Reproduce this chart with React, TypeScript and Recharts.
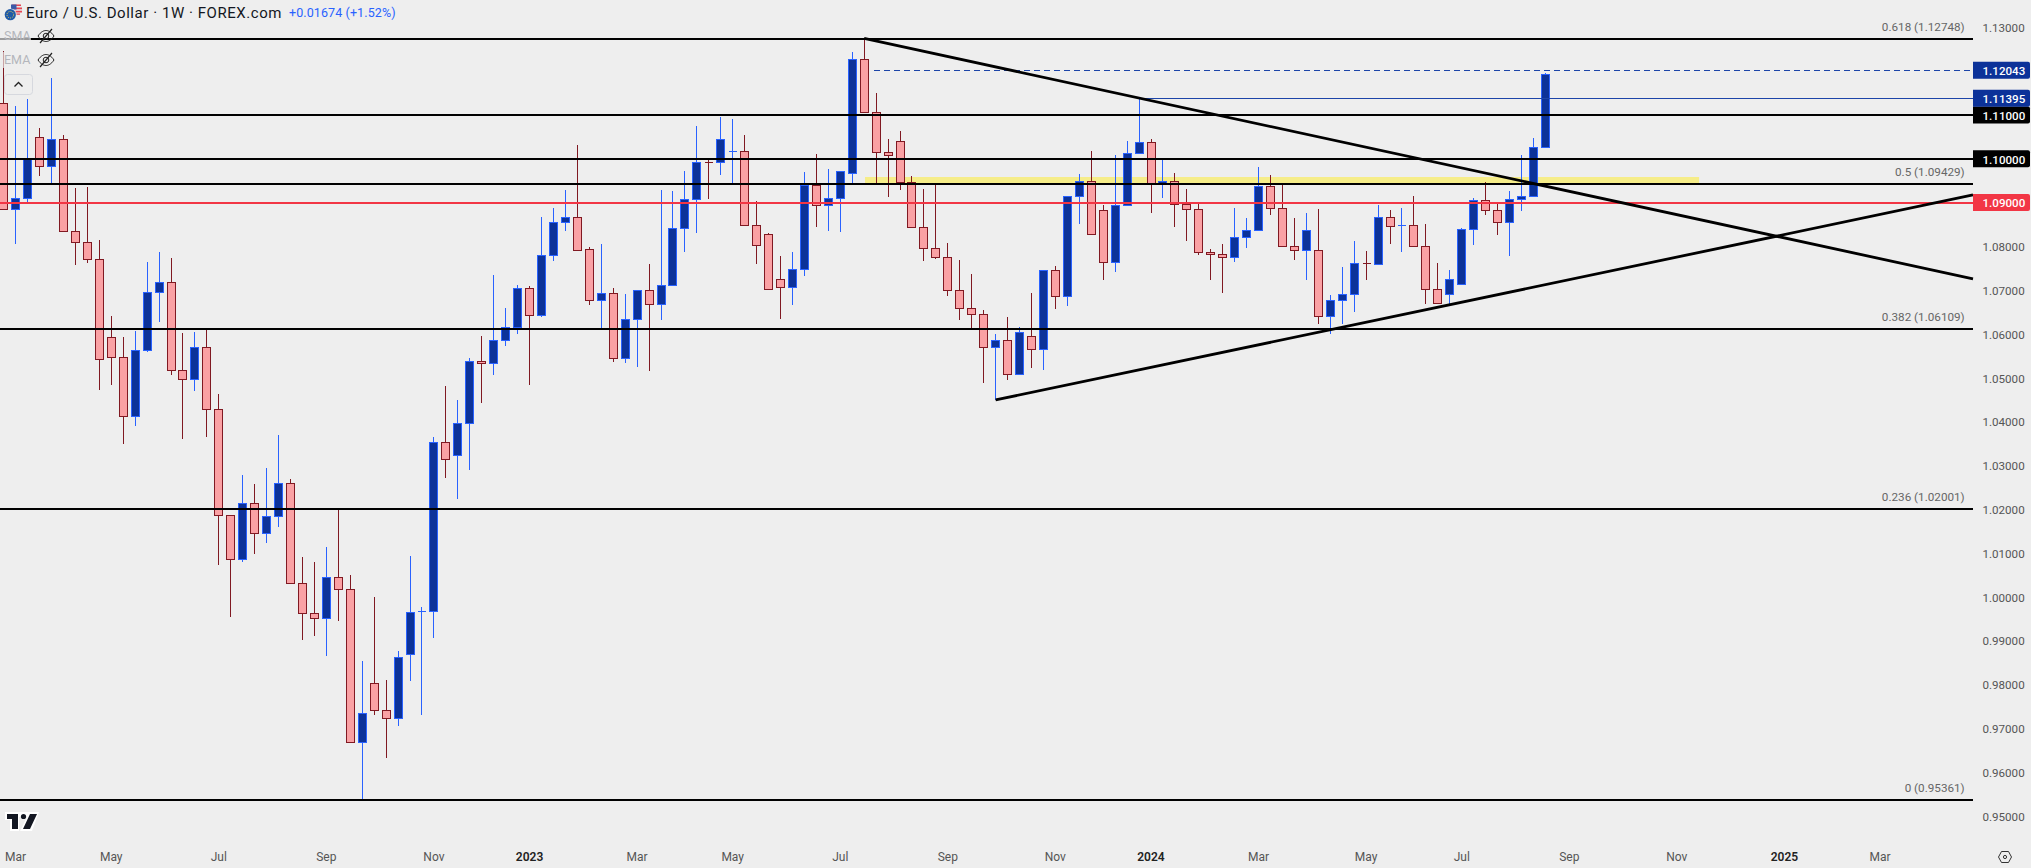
import React from "react";
import { ComposedChart, Bar, XAxis, YAxis, ReferenceLine, ReferenceArea } from "recharts";

const opens = [
  1.11268, 1.08848, 1.09099, 1.10491, 1.09829, 1.10446, 1.08345, 1.08094, 1.07706, 1.05925,
  1.05468, 1.04122, 1.05628, 1.06953, 1.07181, 1.05172, 1.04966, 1.05697, 1.04281, 1.01861,
  1.00857, 1.02135, 1.0145, 1.01838, 1.02592, 1.00309, 0.99624, 0.9951, 1.00446, 1.00172,
  0.96679, 0.98025, 0.97409, 0.97226, 0.98688, 0.99669, 0.99669, 1.03528, 1.03231, 1.03962,
  1.05377, 1.05331, 1.05857, 1.06153, 1.07044, 1.06427, 1.07797, 1.08551, 1.08665, 1.07934,
  1.0677, 1.0693, 1.05445, 1.06336, 1.06998, 1.06678, 1.07112, 1.08414, 1.09076, 1.09921,
  1.09921, 1.10172, 1.10172, 1.08482, 1.08277, 1.07249, 1.07067, 1.07478, 1.09395, 1.08939,
  1.09099, 1.09669, 1.12272, 1.11062, 1.10149, 1.104, 1.09464, 1.08437, 1.07957, 1.07752,
  1.06998, 1.06587, 1.0645, 1.05697, 1.05857, 1.0508, 1.05948, 1.05651, 1.07455, 1.06861,
  1.09144, 1.09487, 1.08825, 1.07637, 1.08939, 1.10126, 1.10377, 1.09418, 1.09487, 1.08962,
  1.08848, 1.07866, 1.0782, 1.07752, 1.08208, 1.08368, 1.09373, 1.0887, 1.08003, 1.07911,
  1.07911, 1.06404, 1.0677, 1.06907, 1.07615, 1.07592, 1.08665, 1.08482, 1.08482, 1.08003,
  1.07021, 1.06907, 1.07135, 1.08391, 1.09053, 1.08825, 1.08551, 1.09076, 1.09144, 1.10263,
];
const closes = [
  1.08848, 1.09099, 1.10003, 1.09829, 1.10446, 1.08345, 1.08094, 1.07706, 1.05423, 1.05468,
  1.04122, 1.05628, 1.06953, 1.07181, 1.05172, 1.04966, 1.05697, 1.04281, 1.01852, 1.00857,
  1.02135, 1.0145, 1.01838, 1.02592, 1.00309, 0.99624, 0.9951, 1.00446, 1.00172, 0.96679,
  0.97341, 0.97409, 0.97226, 0.98619, 0.99647, 0.9968, 1.03528, 1.0314, 1.03962, 1.05377,
  1.05331, 1.05857, 1.06153, 1.07044, 1.06427, 1.07797, 1.08551, 1.08665, 1.07911, 1.0677,
  1.0693, 1.05445, 1.06336, 1.06998, 1.06678, 1.07112, 1.08414, 1.09076, 1.09921, 1.0991,
  1.10446, 1.1018, 1.08482, 1.08025, 1.07021, 1.07067, 1.07478, 1.09395, 1.08939, 1.09099,
  1.09715, 1.12272, 1.11062, 1.10149, 1.1008, 1.09464, 1.08437, 1.07957, 1.07752, 1.06998,
  1.06587, 1.0645, 1.05697, 1.05857, 1.0508, 1.06039, 1.05651, 1.07455, 1.06861, 1.09144,
  1.09487, 1.08277, 1.07637, 1.08939, 1.10126, 1.10377, 1.09418, 1.09487, 1.08962, 1.08848,
  1.07866, 1.0782, 1.07752, 1.08208, 1.08368, 1.09373, 1.0887, 1.08003, 1.07911, 1.08368,
  1.06404, 1.0677, 1.06907, 1.07615, 1.07605, 1.08665, 1.08459, 1.0849, 1.08003, 1.07021,
  1.06701, 1.07249, 1.08391, 1.09053, 1.08825, 1.08551, 1.09076, 1.09144, 1.10263, 1.11937,
];
const highs = [
  1.12462, 1.11206, 1.11366, 1.10704, 1.11845, 1.10544, 1.09327, 1.09357, 1.08147, 1.06411,
  1.05932, 1.06069, 1.07644, 1.07873, 1.07736, 1.06023, 1.06046, 1.06137, 1.04631, 1.01861,
  1.02781, 1.02576, 1.02941, 1.03695, 1.0269, 1.00909, 1.00795, 1.01138, 1.02005, 1.00498,
  0.98535, 0.99996, 0.98101, 0.98763, 1.00932, 0.99767, 1.03649, 1.04813, 1.04494, 1.05445,
  1.05955, 1.07347, 1.06594, 1.07112, 1.0709, 1.08672, 1.08877, 1.09288, 1.10315, 1.0798,
  1.08055, 1.07051, 1.06914, 1.06998, 1.07599, 1.09288, 1.09265, 1.09722, 1.10749, 1.09989,
  1.10955, 1.10909, 1.10544, 1.09037, 1.08306, 1.07781, 1.07873, 1.09699, 1.1011, 1.09768,
  1.09715, 1.12439, 1.12748, 1.11496, 1.10453, 1.10635, 1.09608, 1.09311, 1.09441, 1.08078,
  1.0769, 1.0737, 1.06548, 1.06, 1.06389, 1.06153, 1.0693, 1.07455, 1.07546, 1.09144,
  1.09647, 1.10179, 1.08939, 1.10087, 1.10407, 1.11395, 1.10453, 1.09996, 1.09676, 1.09311,
  1.08985, 1.07941, 1.08055, 1.08877, 1.08649, 1.09813, 1.09631, 1.09441, 1.08649, 1.08763,
  1.08854, 1.06891, 1.0753, 1.08124, 1.07895, 1.08946, 1.08831, 1.08877, 1.09151, 1.08512,
  1.07622, 1.07462, 1.08421, 1.09105, 1.09471, 1.09014, 1.09258, 1.10087, 1.10475, 1.11953,
];
const lows = [
  1.08848, 1.08062, 1.08998, 1.09615, 1.09448, 1.08345, 1.07583, 1.07628, 1.04729, 1.04843,
  1.03496, 1.03907, 1.05596, 1.06281, 1.05071, 1.0361, 1.04706, 1.03656, 1.00727, 0.99546,
  1.00802, 1.00985, 1.01236, 1.01601, 1.00309, 0.99021, 0.99112, 0.98655, 0.99455, 0.96679,
  0.95377, 0.97295, 0.96327, 0.97057, 0.98085, 0.97302, 0.99067, 1.0272, 1.0224, 1.02902,
  1.04432, 1.05071, 1.05733, 1.06007, 1.04843, 1.06395, 1.07674, 1.08359, 1.07911, 1.06669,
  1.06144, 1.05368, 1.05345, 1.05254, 1.05163, 1.06327, 1.07112, 1.07879, 1.08313, 1.0909,
  1.09638, 1.09432, 1.08482, 1.07605, 1.07021, 1.0635, 1.06669, 1.07331, 1.0845, 1.08359,
  1.08336, 1.09441, 1.11062, 1.09441, 1.09135, 1.09295, 1.08437, 1.07674, 1.0772, 1.06875,
  1.06327, 1.06131, 1.04889, 1.04494, 1.04957, 1.0508, 1.05231, 1.05186, 1.06578, 1.06647,
  1.08519, 1.08277, 1.0724, 1.07423, 1.08939, 1.10103, 1.0877, 1.09112, 1.0845, 1.08131,
  1.07811, 1.0724, 1.06943, 1.07637, 1.07971, 1.08368, 1.08724, 1.08003, 1.07697, 1.0724,
  1.06236, 1.06007, 1.06236, 1.0651, 1.0724, 1.07592, 1.08062, 1.07879, 1.08003, 1.06692,
  1.06701, 1.06678, 1.07112, 1.08039, 1.08724, 1.08268, 1.07788, 1.08816, 1.09121, 1.1024,
];

const monthTickAt = [1, 9, 18, 27, 36, 44, 53, 61, 70, 79, 88, 96, 105, 114, 122, 131, 140, 149, 157];
const monthTickLabels = ["Mar", "May", "Jul", "Sep", "Nov", "2023", "Mar", "May", "Jul", "Sep", "Nov", "2024", "Mar", "May", "Jul", "Sep", "Nov", "2025", "Mar"];

const priceTicks = [0.95, 0.96, 0.97, 0.98, 0.99, 1.0, 1.01, 1.02, 1.03, 1.04, 1.05, 1.06, 1.07, 1.08, 1.09, 1.1, 1.11, 1.1138, 1.1202, 1.13];
const tagAt = [1.09, 1.1, 1.11, 1.1138, 1.1202];
const tagText = ["1.09000", "1.10000", "1.11000", "1.11395", "1.12043"];
const tagFill = ["#f23645", "#000000", "#000000", "#0c3299", "#0c3299"];

const fibAt = [1.1274, 1.09429, 1.06109, 1.02001, 0.95361];
const fibText = ["0.618 (1.12748)", "0.5 (1.09429)", "0.382 (1.06109)", "0.236 (1.02001)", "0 (0.95361)"];
const plainLevels = [1.11, 1.1];

const rows = opens.map((o, i) => ({ idx: i, open: o, close: closes[i], high: highs[i], low: lows[i], range: [lows[i], highs[i]] }));

const BG = "#eeeeee";
const FONT = "Roboto, sans-serif";

function Candle(props: any) {
  const { x, y, width, height, payload } = props;
  const up = payload.close >= payload.open;
  const wick = up ? "#2962ff" : "#801922";
  const fill = up ? "#0c3299" : "#faa1a4";
  const perUnit = height / (payload.high - payload.low);
  const yOf = (v: number) => y + (payload.high - v) * perUnit;
  const cx = Math.floor(x + width / 2) + 0.5;
  const snap = (v: number) => Math.round(v - 0.3) + 0.5;
  const top = snap(yOf(Math.max(payload.open, payload.close)));
  const bot = snap(yOf(Math.min(payload.open, payload.close)));
  return (
    <g>
      <rect x={cx - 0.5} y={y} width={1} height={height} fill={wick} shapeRendering="crispEdges" />
      {bot - top < 1 ? (
        <line x1={cx - 4} x2={cx + 4} y1={top} y2={top} stroke={wick} strokeWidth={1} shapeRendering="crispEdges" />
      ) : (
        <rect x={cx - 4} y={top} width={8} height={bot - top} fill={fill} stroke={wick} strokeWidth={1} />
      )}
    </g>
  );
}

function PriceTick(props: any) {
  const { y, payload } = props;
  const t = tagAt.indexOf(payload.value);
  if (t >= 0) {
    const l = 1973;
    return (
      <g>
        <path d={`M${l} ${y - 8.5}H${l + 55}a2 2 0 0 1 2 2v13a2 2 0 0 1 -2 2H${l}Z`} fill={tagFill[t]} />
        <text x={l + 9.5} y={y + 0.7} dominantBaseline="central" fontFamily={FONT} fontSize={11.6} fontWeight={500} fill="#ffffff">{tagText[t]}</text>
      </g>
    );
  }
  return (
    <text x={1982.5} y={y + 0.7} dominantBaseline="central" fontFamily={FONT} fontSize={11.6} fill="#555555">{payload.value.toFixed(5)}</text>
  );
}

function MonthTick(props: any) {
  const { x, payload } = props;
  const label = monthTickLabels[monthTickAt.indexOf(payload.value)];
  const year = /^\d/.test(label);
  return (
    <text x={x} y={857} textAnchor="middle" dominantBaseline="central" fontFamily={FONT} fontSize={12} fontWeight={year ? 600 : 400} fill={year ? "#222222" : "#555555"}>{label}</text>
  );
}

function fibLabel(text: string) {
  return (p: any) => (
    <text x={1964.7} y={p.viewBox.y - 12} textAnchor="end" dominantBaseline="central" fontFamily={FONT} fontSize={11.7} fill="#666666">{text}</text>
  );
}

function Eye({ top }: { top: number }) {
  return (
    <svg width={18} height={16} viewBox="0 0 18 16" style={{ position: "absolute", left: 37, top }}>
      <path d="M1 8C4 3.5 7 2.5 9 2.5S14 3.5 17 8C14 12.5 11 13.5 9 13.5S4 12.5 1 8Z" fill="none" stroke="#222" strokeWidth={1} />
      <circle cx={9} cy={8} r={2.8} fill="none" stroke="#222" strokeWidth={1} />
      <path d="M3 15L15 1" stroke="#222" strokeWidth={1.2} />
    </svg>
  );
}

function Overlays() {
  const base: React.CSSProperties = { position: "absolute", fontFamily: FONT, whiteSpace: "nowrap", lineHeight: "16px" };
  return (
    <>
      <svg width={24} height={24} style={{ position: "absolute", left: 2, top: 2 }}>
        <circle cx={14.5} cy={7.5} r={6} fill="#e9e9e9" />
        <path d="M10 2.5h9v1.6h-9zM9 5.6h11v1.6H9zM9 8.8h11v1.6H9zM10 11.5h8v1.2h-8z" fill="#e64553" />
        <path d="M9 2.5h5.5v5H9z" fill="#3a5aa8" />
        <circle cx={8.3} cy={12.7} r={6.3} fill={BG} />
        <circle cx={8.3} cy={12.7} r={5.6} fill="#1f5aa8" />
        <circle cx={8.3} cy={12.7} r={3.3} fill="none" stroke="#f3d34a" strokeWidth={1} strokeDasharray="1 1.2" />
      </svg>
      <div style={{ ...base, left: 26, top: 5, fontSize: 15, letterSpacing: 0.55, color: "#131722" }}>Euro / U.S. Dollar · 1W · FOREX.com</div>
      <div style={{ ...base, left: 289, top: 5, fontSize: 12.5, letterSpacing: 0.1, color: "#2962ff" }}>+0.01674 (+1.52%)</div>
      <div style={{ ...base, left: 0, top: 28, width: 31, height: 16, paddingLeft: 4, boxSizing: "border-box", fontSize: 12.5, color: "#b4b6bc", background: "rgba(238,238,238,0.65)" }}>SMA</div>
      <div style={{ ...base, left: 0, top: 52, width: 31, height: 16, paddingLeft: 4, boxSizing: "border-box", fontSize: 12.5, color: "#b4b6bc", background: "rgba(238,238,238,0.65)" }}>EMA</div>
      <Eye top={28} />
      <Eye top={52} />
      <svg width={29} height={21} style={{ position: "absolute", left: 4, top: 74 }}>
        <rect x={0.5} y={0.5} width={28} height={20} rx={3} fill={BG} stroke="#d6d8de" />
        <path d="M10.5 12.5L14.5 8.5L18.5 12.5" fill="none" stroke="#222" strokeWidth={1.3} />
      </svg>
      <svg width={36} height={22} style={{ position: "absolute", left: 4, top: 811 }}>
        <path d="M1 1H35L28 20H16L23 6H15V20H6V9H1Z" fill="#ffffff" />
        <path d="M3 3H14V18H8V8H3Z" fill="#131722" />
        <circle cx={19.5} cy={5.5} r={2.6} fill="#131722" />
        <path d="M26 3H33L26 18H19Z" fill="#131722" />
      </svg>
      <svg width={16} height={16} style={{ position: "absolute", left: 1997, top: 849 }}>
        <path d="M4.5 2.5H11.5L14.5 8L11.5 13.5H4.5L1.5 8Z" fill="none" stroke="#333" strokeWidth={1} />
        <circle cx={8} cy={8} r={1.6} fill="none" stroke="#333" strokeWidth={1} />
      </svg>
    </>
  );
}

export default function App() {
  return (
    <div style={{ position: "fixed", left: 0, top: 0, width: 2031, height: 868, background: BG, overflow: "hidden" }}>
      <ComposedChart width={2031} height={868} data={rows} margin={{ top: 0, right: 0, bottom: 0, left: 0 }}>
        <XAxis dataKey="idx" type="number" domain={[-0.307, 164.78]} ticks={monthTickAt} interval={0} height={38} axisLine={false} tickLine={false} tick={MonthTick} allowDataOverflow />
        <YAxis orientation="right" type="number" domain={[0.946759, 1.136256]} ticks={priceTicks} interval={0} width={58} axisLine={false} tickLine={false} tick={PriceTick} allowDataOverflow />
        {fibAt.map((v, i) => (
          <ReferenceLine key={fibText[i]} y={v} stroke="#000000" strokeWidth={2} shapeRendering="crispEdges" label={fibLabel(fibText[i])} />
        ))}
        {plainLevels.map((v) => (
          <ReferenceLine key={v} y={v} stroke="#000000" strokeWidth={2} shapeRendering="crispEdges" />
        ))}
        <ReferenceLine y={1.09} stroke="#f23645" strokeWidth={2} shapeRendering="crispEdges" />
        <ReferenceLine segment={[{ x: 95, y: 1.1138 }, { x: 164.78, y: 1.1138 }]} stroke="#1c44a8" strokeWidth={1} shapeRendering="crispEdges" />
        <ReferenceLine segment={[{ x: 72.8, y: 1.1202 }, { x: 164.78, y: 1.1202 }]} stroke="#1c44a8" strokeWidth={1} strokeDasharray="6 4" shapeRendering="crispEdges" />
        <ReferenceLine segment={[{ x: 72, y: 1.12748 }, { x: 164.78, y: 1.0726 }]} stroke="#000000" strokeWidth={2.8} />
        <ReferenceLine segment={[{ x: 83, y: 1.04494 }, { x: 164.78, y: 1.09174 }]} stroke="#000000" strokeWidth={2.8} />
        <ReferenceArea x1={72.07} x2={141.86} y1={1.09425} y2={1.09585} fill="rgb(252,235,60)" fillOpacity={0.57} stroke="none" />
        <Bar dataKey="range" barSize={8} shape={Candle} isAnimationActive={false} />
      </ComposedChart>
      <Overlays />
    </div>
  );
}
